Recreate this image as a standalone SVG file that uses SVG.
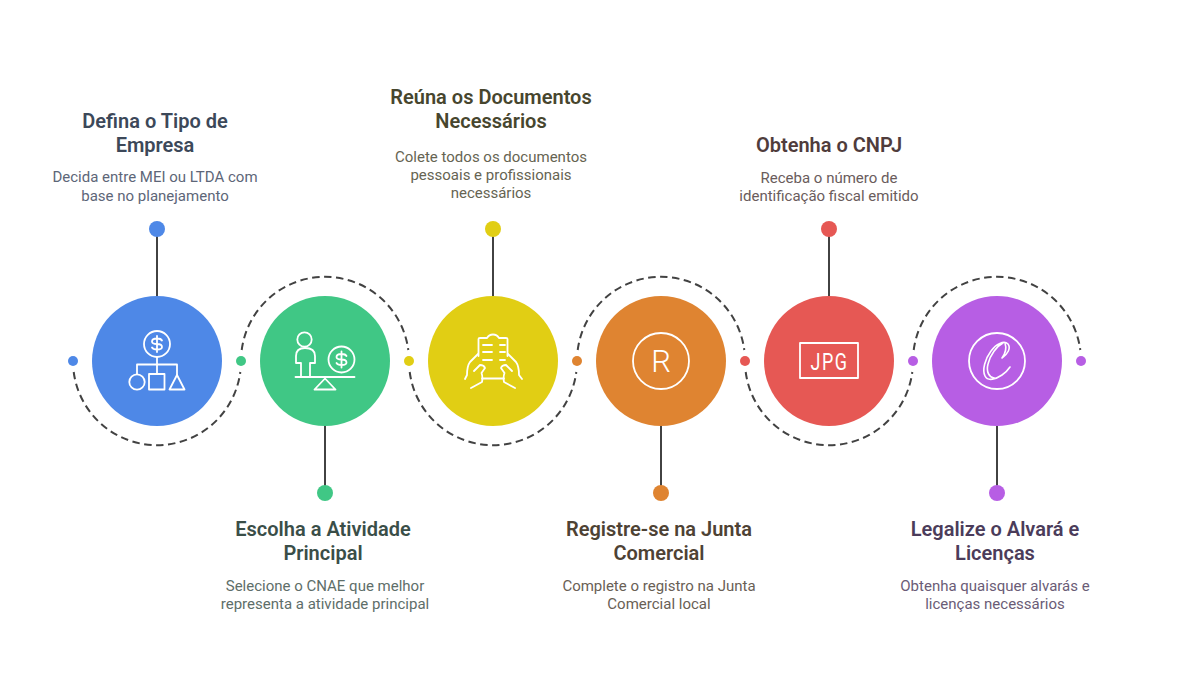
<svg xmlns="http://www.w3.org/2000/svg" width="1202" height="674" viewBox="0 0 1202 674">
<style>
text{font-family:Roboto,"Liberation Sans",sans-serif;text-anchor:middle}
.t{font-size:20px;font-weight:600}
.d{font-size:15px;font-weight:400}
.stem{stroke:#424242;stroke-width:2;fill:none}
.dash{stroke:#424242;stroke-width:2;fill:none;stroke-dasharray:7.500 4.500}
.i{fill:none;stroke:#fff;stroke-width:1.800;stroke-linecap:round;stroke-linejoin:round}
</style>
<rect width="1202" height="674" fill="#fff"/>
<g id="connectors">
<path class="stem" d="M157 229V296M325 426V493M493 229V296M661 426V493M829 229V296M997 426V493"/>
<path class="dash" d="M73.700 372A84 84 0 0 0 240.300 372"/>
<path class="dash" d="M241.700 350A84 84 0 0 1 408.300 350"/>
<path class="dash" d="M409.700 372A84 84 0 0 0 576.300 372"/>
<path class="dash" d="M577.700 350A84 84 0 0 1 744.300 350"/>
<path class="dash" d="M745.700 372A84 84 0 0 0 912.300 372"/>
<path class="dash" d="M913.700 350A84 84 0 0 1 1080.300 350"/>
<circle cx="73" cy="361" r="5" fill="#4e88e7"/>
</g>
<g id="node1">
<circle cx="157" cy="361" r="65" fill="#4e88e7"/><circle cx="157" cy="229" r="8" fill="#4e88e7"/>
<path class="i" d="M157 357V374M137 374V364.500H177V376"/><circle class="i" cx="157" cy="344" r="13"/><circle class="i" cx="137" cy="382" r="7.700"/><rect class="i" x="149" y="374" width="15.500" height="15.500"/><path class="i" d="M177 375L169.500 389.500H184.500Z"/>
<path class="i" d="M162 340.500Q161 338.500 157 338.500Q152 338.500 152 341.500Q152 344 157 344Q162 344 162 347Q162 349.500 157 349.500Q153 349.500 152 347.500M157 336V352"/>
<text class="t" x="155" y="128" fill="#3c4859">Defina o Tipo de</text><text class="t" x="155" y="152" fill="#3c4859">Empresa</text>
<text class="d" x="155" y="182" fill="#5d6678">Decida entre MEI ou LTDA com</text><text class="d" x="155" y="201" fill="#5d6678">base no planejamento</text>
</g>
<g id="node2">
<circle cx="325" cy="361" r="65" fill="#40c785"/><circle cx="325" cy="493" r="8" fill="#40c785"/><circle cx="241" cy="361" r="5" fill="#40c785"/>
<circle class="i" cx="304.500" cy="339.500" r="7.200"/><path class="i" d="M301 377V363H296V356Q296 348 305 348Q315 348 315 356V363H310V377"/><circle class="i" cx="341.500" cy="359.500" r="13"/><path class="i" d="M295.500 377H354.500M325 378.500L314.500 389.500H335.500Z"/>
<path class="i" d="M346.500 356Q345.500 354 341.500 354Q336.500 354 336.500 357Q336.500 359.500 341.500 359.500Q346.500 359.500 346.500 362.500Q346.500 365 341.500 365Q337.500 365 336.500 363M341.500 351.500V367.500"/>
<text class="t" x="323" y="536" fill="#3a4e48">Escolha a Atividade</text><text class="t" x="323" y="560" fill="#3a4e48">Principal</text>
<text class="d" x="325" y="591" fill="#5e6e69">Selecione o CNAE que melhor</text><text class="d" x="325" y="609" fill="#5e6e69">representa a atividade principal</text>
</g>
<g id="node3">
<circle cx="493" cy="361" r="65" fill="#e1ce14"/><circle cx="493" cy="229" r="8" fill="#e1ce14"/><circle cx="409" cy="361" r="5" fill="#e1ce14"/>
<path class="i" d="M478.500 356V339Q478.500 338 480 338H487Q489 334.500 493 334.500Q497 334.500 499 338H506Q507.500 338 507.500 339V356M482 378.500H504"/>
<path class="i" d="M483 345H492M483 352H492M483 360H492M500 345H505M500 352H505M500 360H505"/>
<path class="i" d="M478 354L470 362Q467 366 467 375L465 379M508 354L516 362Q519 366 519 375L522 379"/>
<path class="i" d="M474 371L480 365Q484 365 485 368L481.500 373Q483 377 482 382L471 388M512 371L506 365Q502 365 501 368L504.500 373Q503 377 504 382L515 388"/>
<text class="t" x="491" y="104" fill="#47462e">Reúna os Documentos</text><text class="t" x="491" y="128" fill="#47462e">Necessários</text>
<text class="d" x="491" y="162" fill="#666452">Colete todos os documentos</text><text class="d" x="491" y="180" fill="#666452">pessoais e profissionais</text><text class="d" x="491" y="198" fill="#666452">necessários</text>
</g>
<g id="node4">
<circle cx="661" cy="361" r="65" fill="#df8431"/><circle cx="661" cy="493" r="8" fill="#df8431"/><circle cx="577" cy="361" r="5" fill="#df8431"/>
<circle class="i" cx="661" cy="361" r="28"/>
<text x="661" y="372" font-size="31" font-weight="300" fill="#fff">R</text>
<text class="t" x="659" y="536" fill="#4e4234">Registre-se na Junta</text><text class="t" x="659" y="560" fill="#4e4234">Comercial</text>
<text class="d" x="659" y="591" fill="#696055">Complete o registro na Junta</text><text class="d" x="659" y="609" fill="#696055">Comercial local</text>
</g>
<g id="node5">
<circle cx="829" cy="361" r="65" fill="#e65854"/><circle cx="829" cy="229" r="8" fill="#e65854"/><circle cx="745" cy="361" r="5" fill="#e65854"/>
<rect class="i" x="800" y="343" width="58" height="35" stroke-linecap="butt" stroke-linejoin="miter"/>
<text transform="translate(829.500 369.500) scale(.78 1)" font-size="23" font-weight="400" letter-spacing="2" fill="#fff">JPG</text>
<text class="t" x="829" y="152" fill="#4f3c3c">Obtenha o CNPJ</text>
<text class="d" x="829" y="183" fill="#6a5c5c">Receba o número de</text><text class="d" x="829" y="201" fill="#6a5c5c">identificação fiscal emitido</text>
</g>
<g id="node6">
<circle cx="997" cy="361" r="65" fill="#b75ee4"/><circle cx="997" cy="493" r="8" fill="#b75ee4"/><circle cx="913" cy="361" r="5" fill="#b75ee4"/><circle cx="1081" cy="361" r="5" fill="#b75ee4"/>
<circle class="i" cx="997" cy="361" r="28"/>
<path class="i" style="stroke-width:1.600" d="M1002 358C1008 354 1011 348 1008 344C1004 340 996 344 991 351C985 359 982 370 985 376C988 382 996 379 1002 375C1005 373 1008 370 1010 367M1003 343C997 346 990 355 988 364C986 372 989 377 994 378M1005 343C1007 349 1005 354 1002 358"/>
<text class="t" x="995" y="536" fill="#4b3c5a">Legalize o Alvará e</text><text class="t" x="995" y="560" fill="#4b3c5a">Licenças</text>
<text class="d" x="995" y="591" fill="#6a5c76">Obtenha quaisquer alvarás e</text><text class="d" x="995" y="609" fill="#6a5c76">licenças necessários</text>
</g>
</svg>
